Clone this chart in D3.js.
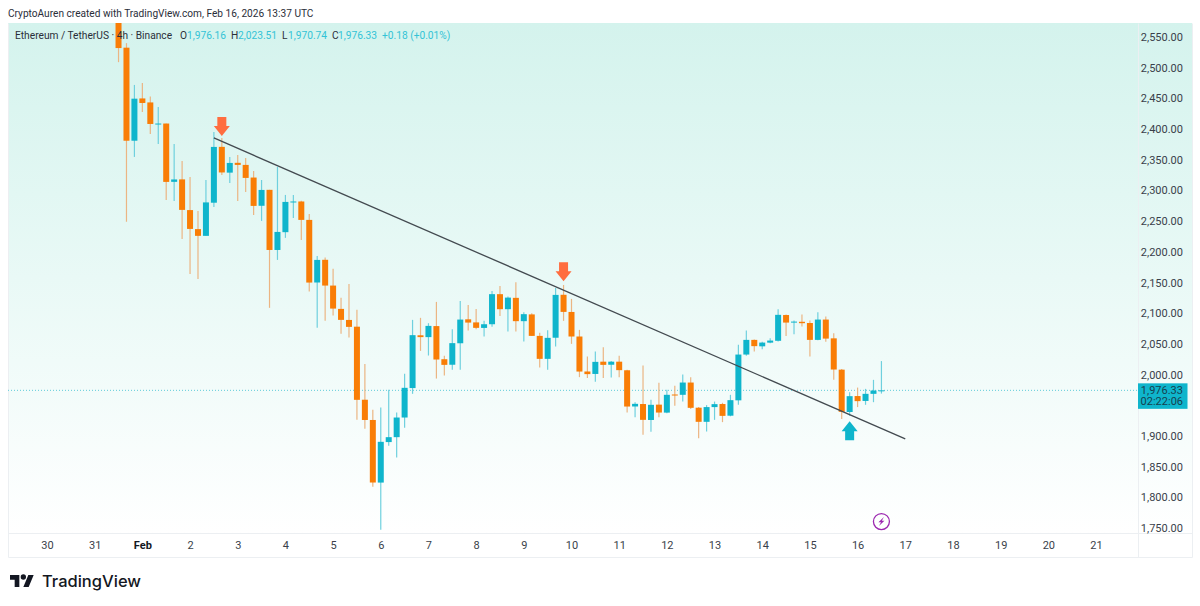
<!DOCTYPE html>
<html>
<head>
<meta charset="utf-8">
<script src="https://cdn.jsdelivr.net/npm/d3@7"></script>
<style>
  html, body { margin: 0; background: #fff; }
  svg { display: block; }
  text { font-family: Roboto, sans-serif; }
</style>
</head>
<body>
<svg id="chart"></svg>
<script>
// 4h bars, the first one sits 9 bars after Jan 30 00:00
const firstBar = 9;
const opens = [2600,2532.6,2381,2449.9,2443.4,2408,2409,2314,2318,2268,2237,2226,2280,2371,2329,2345,2341.6,2321,2275,2301,2203,2232,2281,2282,2252,2150,2187,2145,2107,2089,2078,1959,1926,1824,1890,1898,1930,1978,2064,2061,2079,2025,2016,2051,2090,2085,2076,2082,2131,2106.5,2125,2087,2098,2063,2025.6,2060,2130,2102,2062,2005,2001,2021,2016,2021,2007,1948,1952,1926,1951,1938,1967.5,1967,1987,1946,1923,1947,1952,1933,1958,2032.6,2056.5,2046,2052,2055,2097,2084.7,2086,2084,2056.5,2089.6,2059,2008,1939,1965,1957,1968.6,1974.2];
const highs = [2620,2540,2471.9,2475,2453,2436,2409,2375.8,2348,2322,2266.6,2317,2395.3,2385.5,2354.6,2357.8,2353,2331.8,2317,2301,2338.3,2292.7,2292.7,2283,2261.8,2193.3,2190.6,2172.2,2125,2147.7,2105.4,2017.4,1942.5,1946.3,1975.1,1938.1,2001.2,2089.1,2092.4,2083.7,2118.4,2030.5,2074,2120,2113.5,2107,2087.5,2136.3,2144.5,2127,2150.5,2101.6,2100,2068,2072.3,2141.2,2146,2123.3,2072.8,2029.3,2037.5,2044.6,2022,2030.5,2008,1955,2014.7,1958.8,1986.5,1975.1,1981.6,2000,1995.8,1947,1950.2,1956,1954,1967,2048.4,2071.7,2057,2053.3,2059.3,2106.5,2098,2088,2097.7,2088,2101.6,2094.5,2067.4,2009,1971.3,1978.8,1976.7,1991.4,2022];
const lows = [2509,2249,2354.6,2427.9,2392,2375.8,2284.5,2282.9,2221,2164,2155.9,2226,2273,2325.3,2312.2,2282.9,2297.6,2260.1,2250.3,2108.7,2186.8,2222.7,2255.2,2219.4,2135.2,2076.1,2087.5,2096.1,2066.3,2060.3,1926.2,1911.6,1817.1,1747.1,1883.9,1864.8,1913.2,1968.6,2038.6,2031,1993.5,1998.4,2007.7,2007.7,2071.7,2074,2062,2077.7,2095.6,2070,2070,2053.8,2063,2011.4,2007.7,2045.6,2087.5,2050,1995.8,1994.2,1988.1,1994.2,1995.1,1995.8,1938.1,1930.6,1901.8,1906.7,1930.3,1937,1949,1956,1943.7,1896.4,1907.2,1926.2,1922.5,1932,1950.7,2030.5,2037.5,2041.4,2051,2054,2063,2065.8,2078.2,2029.3,2056,2053.3,1991.4,1927.4,1932.7,1947,1950.7,1955,1969];
const closes = [2532,2381,2449.5,2442.5,2408.3,2409,2313.9,2317.9,2268.3,2237.3,2226,2280.5,2370.9,2329.3,2344.8,2341.6,2320.4,2274.8,2300.8,2203,2232.4,2281.3,2282,2252,2149.9,2186.8,2145,2107.5,2089.1,2077.7,1958.8,1926,1824.1,1890.4,1898,1930,1978.4,2064.2,2061,2079.3,2024.5,2015.8,2051.2,2089.6,2084.7,2076.1,2082,2131,2106.5,2125.4,2087,2098.4,2063,2025.6,2059.8,2129.8,2102.1,2062,2004.9,2000.7,2020.7,2015.8,2021,2007.2,1947.9,1952.3,1926.2,1950.7,1938.1,1967,1966.5,1987,1945.8,1923,1947,1951.8,1932.7,1958.3,2032.6,2056.5,2046.3,2052.1,2055.4,2097.3,2084.7,2086.3,2083.7,2056.5,2089.6,2058.6,2008.2,1939.3,1964.8,1956.7,1968.6,1974,1974.3];

// 1,950 is left out, the current price label covers it in the reference
const priceTicks = [1750,1800,1850,1900,2000,2050,2100,2150,2200,2250,2300,2350,2400,2450,2500,2550];
const dayLabels = ["30","31","Feb","2","3","4","5","6","7","8","9","10","11","12","13","14","15","16","17","18","19","20","21"];

// trend line end points [bar, price] and the three arrows
const trendBars = [21, 108];
const trendPrices = [2385.5, 1895.3];
const downArrowBars = [22, 65];
const downArrowPrices = [2388.8, 2152];
const upArrowBar = 101;
const upArrowPrice = 1924;
const lastPrice = 1974.3;
const lastPriceLabel = "1,976.33";
const countdownLabel = "02:22:06";
const boltBar = 105;
const boltPrice = 1760.5;

const legendParts = [
  ["Ethereum / TetherUS · 4h · Binance", 15, "#2a2e39"],
  ["O", 180, "#2a2e39"], ["1,976.16", 187, "#33c3d6"],
  ["H", 231, "#2a2e39"], ["2,023.51", 238, "#33c3d6"],
  ["L", 282, "#2a2e39"], ["1,970.74", 288, "#33c3d6"],
  ["C", 332, "#2a2e39"], ["1,976.33", 338, "#33c3d6"],
  ["+0.18 (+0.01%)", 382, "#33c3d6"]
];

const width = 1200, height = 606;
const paneLeft = 8, paneRight = 1138, axisRight = 1192, paneTop = 23, paneBottom = 533, frameBottom = 557;
const upColor = "#0fb5cc", downColor = "#f97d06";
const upWick = "#6fd0de", downWick = "#ebb583";

const svg = d3.select("#chart").attr("width", width).attr("height", height);

const x = d3.scaleLinear().domain([0, 132]).range([47, 1096]);
const y = d3.scaleLinear().domain([1750, 2550]).range([528, 37]);

const defs = svg.append("defs");
const grad = defs.append("linearGradient").attr("id", "bg").attr("x1", 0).attr("x2", 0).attr("y1", 0).attr("y2", 1);
grad.append("stop").attr("offset", "0%").attr("stop-color", "#d4f3ed");
grad.append("stop").attr("offset", "50%").attr("stop-color", "#e9f9f6");
grad.append("stop").attr("offset", "100%").attr("stop-color", "#ffffff");
defs.append("clipPath").attr("id", "pane").append("rect")
  .attr("x", paneLeft).attr("y", paneTop).attr("width", paneRight - paneLeft).attr("height", paneBottom - paneTop);

svg.append("rect").attr("x", paneLeft).attr("y", paneTop)
  .attr("width", axisRight - paneLeft).attr("height", paneBottom - paneTop).attr("fill", "url(#bg)");

// frame
const frame = [
  [paneLeft, paneTop, paneLeft, frameBottom], [axisRight, paneTop, axisRight, frameBottom],
  [paneRight, paneTop, paneRight, frameBottom], [paneLeft, paneBottom, axisRight, paneBottom],
  [paneLeft, frameBottom, axisRight, frameBottom]
];
svg.append("g").selectAll("line").data(frame).enter().append("line")
  .attr("x1", d => d[0] + .5).attr("y1", d => d[1] + .5)
  .attr("x2", d => d[2] + .5).attr("y2", d => d[3] + .5)
  .attr("stroke", "#eceff2");

svg.append("text").attr("x", 8).attr("y", 17).attr("font-size", 10.15).attr("fill", "#2a2e39")
  .text("CryptoAuren created with TradingView.com, Feb 16, 2026 13:37 UTC");

const bars = opens.map((o, i) => ({ i: firstBar + i, o, h: highs[i], l: lows[i], c: closes[i], up: closes[i] >= o }));
const plot = svg.append("g").attr("clip-path", "url(#pane)");

// last price dotted line
plot.append("line").attr("x1", paneLeft).attr("x2", paneRight)
  .attr("y1", y(lastPrice)).attr("y2", y(lastPrice))
  .attr("stroke", "#5fcbd9").attr("stroke-dasharray", "1 2");

plot.selectAll("line.wick").data(bars).enter().append("line").attr("class", "wick")
  .attr("x1", d => x(d.i)).attr("x2", d => x(d.i))
  .attr("y1", d => y(d.h)).attr("y2", d => y(d.l))
  .attr("stroke", d => d.up ? upWick : downWick).attr("stroke-width", 1.2);

plot.selectAll("rect.body").data(bars).enter().append("rect").attr("class", "body")
  .attr("x", d => x(d.i) - 3).attr("width", 6)
  .attr("y", d => y(Math.max(d.o, d.c)))
  .attr("height", d => Math.max(1, Math.abs(y(d.o) - y(d.c))))
  .attr("fill", d => d.up ? upColor : downColor);

// trend line
const trend = d3.line().x(d => x(d[0])).y(d => y(d[1]));
plot.append("path").attr("d", trend(d3.zip(trendBars, trendPrices)))
  .attr("fill", "none").attr("stroke", "#434a50").attr("stroke-width", 1.3);

// arrows: tip at the anchor, dir 1 points down, -1 points up
function arrowPath(dir) {
  const pts = [[0, 0], [8, -10 * dir], [4.5, -10 * dir], [4.5, -19 * dir], [-4.5, -19 * dir], [-4.5, -10 * dir], [-8, -10 * dir]];
  return d3.line()(pts) + "Z";
}
plot.selectAll("path.down").data(d3.zip(downArrowBars, downArrowPrices)).enter().append("path").attr("class", "down")
  .attr("transform", d => "translate(" + x(d[0]) + "," + y(d[1]) + ")")
  .attr("d", arrowPath(1)).attr("fill", "#ff6d3f");
plot.append("path")
  .attr("transform", "translate(" + x(upArrowBar) + "," + y(upArrowPrice) + ")")
  .attr("d", arrowPath(-1)).attr("fill", upColor);

// legend
svg.append("g").selectAll("text").data(legendParts).enter().append("text")
  .attr("x", d => d[1]).attr("y", 39).attr("font-size", 10.2).attr("fill", d => d[2]).text(d => d[0]);

// bolt marker
const bolt = svg.append("g").attr("transform", "translate(" + x(boltBar) + "," + y(boltPrice) + ")");
bolt.append("circle").attr("r", 8).attr("fill", "none").attr("stroke", "#9c27b0").attr("stroke-width", 1.3);
bolt.append("path").attr("d", "M2.5,-4.5 L-3,0.8 L-0.4,0.8 L-2.5,4.5 L3,-0.8 L0.4,-0.8 Z").attr("fill", "#9c27b0");

// axes
const yAxis = d3.axisRight(y).tickValues(priceTicks).tickFormat(d3.format(",.2f")).tickSize(0);
const yG = svg.append("g").attr("transform", "translate(" + paneRight + ",0)").call(yAxis);
yG.select(".domain").remove();
yG.selectAll("text").attr("x", 45).attr("text-anchor", "end")
  .attr("font-size", 11).attr("font-family", "Roboto").attr("fill", "#3a3f4a");

const xAxis = d3.axisBottom(x).tickValues(dayLabels.map((d, i) => i * 6)).tickFormat((d, i) => dayLabels[i]).tickSize(0);
const xG = svg.append("g").attr("transform", "translate(0," + paneBottom + ")").call(xAxis);
xG.select(".domain").remove();
xG.selectAll("text").attr("y", 8).attr("font-size", 11).attr("font-family", "Roboto")
  .attr("fill", d => d === 12 ? "#131722" : "#3a3f4a").attr("font-weight", d => d === 12 ? 700 : 400);

// current price label
const labelTop = y(lastPrice) - 7;
svg.append("rect").attr("x", paneRight).attr("y", labelTop).attr("width", 49.5).attr("height", 25.5).attr("fill", upColor);
const priceLabel = svg.append("g").attr("text-anchor", "end").attr("font-size", 11).attr("fill", "#17414f");
priceLabel.append("text").attr("x", 1183).attr("y", labelTop + 10.5).text(lastPriceLabel);
priceLabel.append("text").attr("x", 1183).attr("y", labelTop + 22).text(countdownLabel);

// TradingView logo
const logo = svg.append("g").attr("transform", "translate(10,572.3) scale(0.667)").attr("fill", "#131722");
logo.append("path").attr("d", "M14 22H7V11H0V4h14v18zM28 22h-8l7.5-18h8L28 22z");
logo.append("circle").attr("cx", 20).attr("cy", 7).attr("r", 4);
svg.append("text").attr("x", 42).attr("y", 587).attr("font-size", 16.5).attr("font-weight", 500)
  .attr("fill", "#131722").style("font-family", "Inter").text("TradingView");
</script>
</body>
</html>
